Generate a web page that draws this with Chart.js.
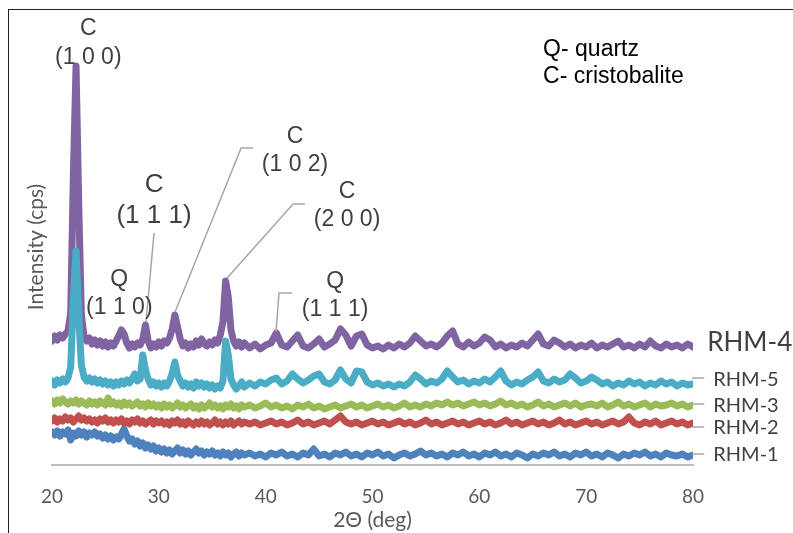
<!DOCTYPE html>
<html>
<head>
<meta charset="utf-8">
<script src="https://cdn.jsdelivr.net/npm/chart.js@4.4.0/dist/chart.umd.min.js"></script>
<style>
  html, body { margin: 0; padding: 0; background: #fff; overflow: hidden; }
  #wrap { position: relative; width: 793px; height: 533px; }
  #frame { position: absolute; left: 8px; top: 9px; width: 900px; height: 700px;
           border-left: 1px solid #222; border-top: 1px solid #222; }
  canvas { position: absolute; left: 0; top: 0; }
</style>
</head>
<body>
<div id="wrap">
  <div id="frame"></div>
  <canvas id="xrd" width="793" height="533"></canvas>
</div>
<script>
// 2-theta positions (deg), finer step through the sharp peaks
const angles = [
  20, 20.25, 20.5, 20.75, 21, 21.25, 21.5, 21.75,
  22, 22.25, 22.5, 22.75, 23, 23.25, 23.5, 23.75,
  24, 24.25, 24.5, 24.75, 25, 25.25, 25.5, 25.75,
  26, 26.25, 26.5, 26.75, 27, 27.25, 27.5, 27.75,
  28, 28.25, 28.5, 28.75, 29, 29.25, 29.5, 29.75,
  30, 30.25, 30.5, 30.75, 31, 31.25, 31.5, 31.75,
  32, 32.25, 32.5, 32.75, 33, 33.25, 33.5, 33.75,
  34, 34.25, 34.5, 34.75, 35, 35.25, 35.5, 35.75,
  36, 36.25, 36.5, 36.75, 37, 37.25, 37.5, 37.75,
  38,
  38.5, 39, 39.5, 40, 40.5, 41, 41.5, 42, 42.5, 43,
  43.5, 44, 44.5, 45, 45.5, 46, 46.5, 47, 47.5, 48,
  48.5, 49, 49.5, 50, 50.5, 51, 51.5, 52, 52.5, 53,
  53.5, 54, 54.5, 55, 55.5, 56, 56.5, 57, 57.5, 58,
  58.5, 59, 59.5, 60, 60.5, 61, 61.5, 62, 62.5, 63,
  63.5, 64, 64.5, 65, 65.5, 66, 66.5, 67, 67.5, 68,
  68.5, 69, 69.5, 70, 70.5, 71, 71.5, 72, 72.5, 73,
  73.5, 74, 74.5, 75, 75.5, 76, 76.5, 77, 77.5, 78,
  78.5, 79, 79.5, 80
];

// stacked intensities (offset already in, arbitrary units)
const rhm4 = [
  124, 129, 125, 130, 127, 131, 134, 152,
  290, 399, 262, 150, 128, 124, 127, 121,
  125, 120, 124, 119, 123, 118, 122, 119,
  124, 129, 135, 131, 122, 117, 121, 118,
  122, 120, 126, 140, 124, 117, 121, 118,
  123, 119, 124, 122, 127, 136, 150, 138,
  126, 119, 122, 117, 121, 118, 124, 120,
  126, 121, 119, 123, 120, 125, 122, 130,
  143, 184, 168, 135, 124, 119, 123, 118,
  122,
  117, 121, 116, 120, 122, 132, 120, 118, 124, 130,
  119, 117, 121, 126, 118, 121, 125, 136, 130, 119,
  129, 131, 120, 117, 119, 116, 120, 117, 121, 118,
  122, 129, 124, 119, 121, 118, 122, 129, 134, 121,
  118, 123, 119, 122, 128, 125, 118, 121, 117, 120,
  118, 122, 119, 125, 131, 121, 119, 125, 122, 118,
  121, 117, 120, 118, 122, 117, 120, 118, 121, 124,
  118, 120, 117, 121, 118, 124, 119, 117, 121, 118,
  120, 117, 121, 118
];
const rhm5 = [
  84, 80, 85, 82, 86, 83, 87, 98,
  165, 214, 150, 100, 88, 84, 87, 83,
  86, 82, 85, 81, 84, 80, 83, 79,
  83, 80, 84, 81, 85, 82, 86, 91,
  84, 86, 110, 95, 86, 80, 83, 79,
  82, 78, 82, 79, 84, 92, 103, 90,
  84, 79, 82, 78, 81, 77, 83, 79,
  82, 78, 81, 77, 80, 76, 79, 77,
  84, 124, 110, 86, 80, 76, 79, 83,
  78,
  82, 79, 83, 81, 85, 87, 81, 84, 91, 86,
  82, 85, 89, 91, 83, 81, 85, 95, 86, 82,
  94, 93, 83, 80, 82, 79, 81, 78, 81, 79,
  83, 90, 86, 81, 84, 82, 86, 94, 88, 83,
  85, 81, 84, 82, 86, 83, 88, 94, 84, 80,
  83, 81, 85, 88, 93, 84, 82, 86, 83, 85,
  91, 87, 82, 84, 88, 85, 81, 83, 79, 82,
  80, 84, 81, 83, 79, 82, 80, 84, 81, 83,
  79, 82, 80, 81
];
const rhm3 = [
  64, 61, 65, 62, 66, 63, 61, 64,
  62, 65, 61, 64, 62, 60, 64, 61,
  63, 60, 64, 62, 60, 67, 61, 63,
  60, 62, 59, 63, 60, 62, 59, 61,
  63, 59, 61, 58, 62, 59, 61, 58,
  60, 57, 61, 58, 60, 57, 59, 62,
  58, 60, 57, 59, 61, 57, 59, 56,
  60, 57, 59, 62, 58, 60, 57, 59,
  56, 60, 58, 61, 57, 59, 56, 60,
  58,
  60, 57, 59, 62, 58, 60, 57, 59, 56, 60,
  58, 61, 57, 59, 56, 58, 60, 57, 59, 61,
  58, 60, 57, 59, 61, 58, 60, 57, 59, 62,
  58, 60, 58, 61, 59, 62, 60, 63, 60, 62,
  59, 61, 63, 60, 62, 59, 61, 64, 60, 62,
  59, 61, 58, 60, 63, 59, 61, 58, 60, 62,
  59, 62, 58, 60, 61, 59, 62, 58, 60, 63,
  59, 61, 58, 60, 62, 58, 61, 59, 60, 62,
  59, 61, 58, 60
];
const rhm2 = [
  44, 47, 43, 46, 44, 48, 45, 47,
  43, 46, 49, 45, 47, 44, 46, 43,
  45, 42, 46, 44, 47, 43, 45, 42,
  45, 43, 46, 42, 44, 41, 45, 43,
  46, 42, 44, 41, 43, 45, 41, 44,
  42, 44, 41, 43, 40, 44, 42, 45,
  41, 43, 40, 44, 42, 40, 43, 41,
  44, 41, 43, 40, 42, 45, 41, 43,
  40, 43, 41, 44, 40, 42, 44, 41,
  43,
  41, 43, 40, 42, 44, 41, 43, 40, 42, 45,
  41, 43, 40, 42, 44, 41, 45, 49, 43, 41,
  43, 40, 42, 44, 41, 43, 40, 42, 44, 41,
  43, 40, 42, 45, 41, 43, 40, 42, 44, 41,
  43, 40, 42, 44, 41, 43, 40, 42, 45, 41,
  43, 40, 42, 44, 41, 43, 40, 42, 45, 41,
  43, 40, 42, 44, 41, 43, 40, 42, 44, 41,
  43, 48, 42, 40, 43, 41, 44, 40, 42, 44,
  41, 43, 40, 42
];
const rhm1 = [
  33, 30, 34, 29, 33, 31, 35, 25,
  32, 29, 34, 30, 33, 28, 32, 30,
  33, 29, 31, 27, 30, 26, 29, 25,
  28, 26, 31, 36, 29, 24, 26, 21,
  24, 19, 22, 17, 20, 16, 19, 14,
  17, 13, 16, 12, 15, 11, 14, 17,
  12, 15, 11, 14, 10, 13, 16, 12,
  14, 10, 13, 11, 14, 10, 12, 9,
  13, 10, 12, 8, 11, 13, 9, 12,
  10,
  12, 9, 11, 8, 12, 10, 13, 9, 11, 8,
  12, 10, 16, 9, 11, 8, 12, 10, 13, 9,
  11, 8, 12, 10, 13, 9, 11, 7, 10, 12,
  9, 11, 14, 10, 12, 9, 11, 8, 12, 10,
  13, 9, 11, 8, 12, 10, 13, 9, 11, 8,
  12, 10, 7, 11, 9, 12, 10, 13, 9, 11,
  8, 12, 10, 13, 9, 11, 8, 12, 10, 7,
  11, 9, 12, 10, 13, 9, 11, 8, 12, 10,
  9, 11, 8, 10
];

const sampleNames = ['RHM-5', 'RHM-4', 'RHM-3', 'RHM-2', 'RHM-1'];
const xTickStep = 10;

// peak labels: text centre and leader path in data units (deg, intensity)
const peakNotes = [
  { lines: ['C', '(1 0 0)'], x: 23.4, y: 436, size: 23, gap: 29, leader: [] },
  { lines: ['C', '(1 1 1)'], x: 29.55, y: 280, size: 26, gap: 31, leader: [[29.55, 232], [28.8, 143]] },
  { lines: ['Q', '(1 1 0)'], x: 26.3, y: 185, size: 23, gap: 28, leader: [] },
  { lines: ['C', '(1 0 2)'], x: 42.75, y: 328, size: 23, gap: 28, leader: [[38.82, 317], [37.7, 317], [31.52, 153]] },
  { lines: ['C', '(2 0 0)'], x: 47.62, y: 273, size: 23, gap: 28, leader: [[43.69, 261], [42.57, 261], [36.39, 187]] },
  { lines: ['Q', '(1 1 1)'], x: 46.5, y: 183, size: 23, gap: 28, leader: [[42.47, 172], [41.25, 172], [40.97, 133]] }
];
const keyNotes = [
  { text: 'Q- quartz', x: 65.97, y: 415 },
  { text: 'C- cristobalite', x: 65.97, y: 388 }
];
const endLabels = [
  { text: 'RHM-4', x: 81.33, y: 122, size: 26, leader: null },
  { text: 'RHM-5', x: 81.9, y: 85, size: 20, leader: [79.9, 81.05, 87] },
  { text: 'RHM-3', x: 81.9, y: 59, size: 20, leader: [79.9, 81.05, 61] },
  { text: 'RHM-2', x: 81.9, y: 37, size: 20, leader: [79.9, 81.05, 38] },
  { text: 'RHM-1', x: 81.9, y: 10, size: 20, leader: [79.9, 81.05, 11] }
];

const colors = ['#4BACC6', '#8064A2', '#9BBB59', '#C0504D', '#4F81BD'];
const series = [rhm5, rhm4, rhm3, rhm2, rhm1];

const notesPlugin = {
  id: 'notes',
  afterDraw(chart) {
    const ctx = chart.ctx;
    const xs = chart.scales.x, ys = chart.scales.y;
    const px = v => xs.getPixelForValue(v);
    const py = v => ys.getPixelForValue(v);
    ctx.save();
    ctx.strokeStyle = '#A6A6A6';
    ctx.lineWidth = 1.5;
    peakNotes.forEach(n => {
      if (n.leader.length) {
        ctx.beginPath();
        n.leader.forEach((p, i) => i ? ctx.lineTo(px(p[0]), py(p[1])) : ctx.moveTo(px(p[0]), py(p[1])));
        ctx.stroke();
      }
      ctx.fillStyle = '#404040';
      ctx.font = n.size + 'px "Liberation Sans", Arial, sans-serif';
      ctx.textAlign = 'center';
      ctx.textBaseline = 'middle';
      n.lines.forEach((t, i) => ctx.fillText(t, px(n.x), py(n.y) + i * n.gap));
    });
    ctx.fillStyle = '#000';
    ctx.font = '23px "Liberation Sans", Arial, sans-serif';
    ctx.textAlign = 'left';
    keyNotes.forEach(k => ctx.fillText(k.text, px(k.x), py(k.y)));
    endLabels.forEach(l => {
      if (l.leader) {
        ctx.beginPath();
        ctx.moveTo(px(l.leader[0]), py(l.leader[2]));
        ctx.lineTo(px(l.leader[1]), py(l.leader[2]));
        ctx.stroke();
      }
      ctx.fillStyle = '#404040';
      ctx.font = l.size + 'px Lato, sans-serif';
      ctx.fillText(l.text, px(l.x), py(l.y));
    });
    ctx.restore();
  }
};

new Chart(document.getElementById('xrd'), {
  type: 'line',
  data: {
    datasets: series.map((s, i) => ({
      label: sampleNames[i],
      data: angles.map((a, j) => ({ x: a, y: s[j] })),
      borderColor: colors[i],
      borderWidth: 7,
      borderJoinStyle: 'round',
      borderCapStyle: 'round',
      pointRadius: 0,
      tension: 0,
      fill: false
    }))
  },
  options: {
    responsive: false,
    animation: false,
    devicePixelRatio: 1,
    layout: { padding: { left: 0, right: 100, top: 29, bottom: 0 } },
    plugins: { legend: { display: false }, tooltip: { enabled: false } },
    scales: {
      x: {
        type: 'linear',
        min: 20,
        max: 80,
        afterFit: s => { s.height = 68; },
        grid: { display: false, drawTicks: false },
        border: { display: true, color: '#BFBFBF', width: 2 },
        ticks: { stepSize: xTickStep, padding: 20, color: '#595959', font: { family: 'Lato', size: 19 } },
        title: { display: true, text: '2Θ (deg)', color: '#595959', padding: { top: 0, bottom: 0 },
                 font: { family: 'Lato', size: 21 } }
      },
      y: {
        min: 0,
        max: 436,
        afterFit: s => { s.width = 52; },
        grid: { display: false },
        border: { display: false },
        ticks: { display: false },
        title: { display: true, text: 'Intensity (cps)', color: '#595959', padding: { top: 24, bottom: 0 },
                 font: { family: 'Lato', size: 21 } }
      }
    }
  },
  plugins: [notesPlugin]
});
</script>
</body>
</html>
